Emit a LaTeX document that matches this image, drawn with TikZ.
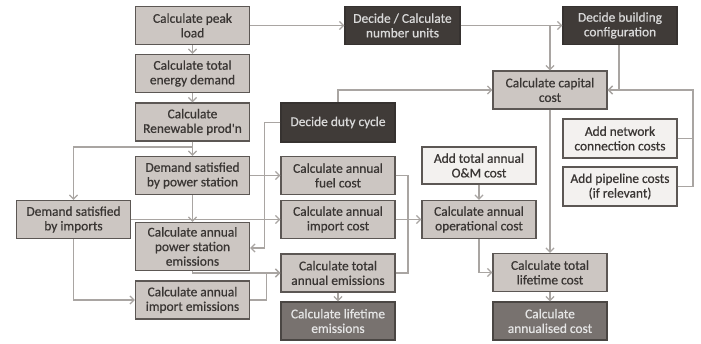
\documentclass[tikz,border=0pt]{standalone}
\usepackage{fontspec}
\setmainfont{Carlito}
\newfontfamily\boxfont{Carlito}[FakeBold=0.6]
\usetikzlibrary{arrows.meta}

\definecolor{boxfill}{HTML}{CCC6C2}
\definecolor{lightfill}{HTML}{F3F1EF}
\definecolor{darkfill}{HTML}{403B38}
\definecolor{midfill}{HTML}{78726F}
\definecolor{edgegray}{HTML}{5C5754}
\definecolor{textdark}{HTML}{3A3634}
\definecolor{linegray}{HTML}{A9A5A2}

\tikzset{
  box/.style={draw=edgegray, line width=1.3pt, fill=boxfill, text=textdark,
    minimum width=114pt, minimum height=38pt, align=center, inner sep=1pt,
    font=\boxfont\fontsize{13.4}{14.6}\selectfont},
  lightbox/.style={box, fill=lightfill},
  darkbox/.style={box, fill=darkfill, draw=darkfill!85!black, text=white!85!black},
  midbox/.style={box, fill=midfill, draw=edgegray!80!black, text=white!90!black},
  conn/.style={draw=linegray, line width=1.3pt},
  arr/.style={conn, -{Straight Barb[length=4pt,width=8pt,line width=1.3pt]}}
}

\begin{document}
\begin{tikzpicture}[x=1pt,y=-1pt]
\useasboundingbox[fill=white] (0,0) rectangle (701,343);

% left column
\node[box] (peak)   at (192.5,25.5) {Calculate peak\\load};
\node[box] (energy) at (192.5,73.5) {Calculate total\\energy demand};
\node[box] (renew)  at (192.5,122)  {Calculate\\Renewable prod'n};
\node[box] (dps)    at (192.5,175.5){Demand satisfied\\by power station};
\node[box] (dimp)   at (73.5,219.5) {Demand satisfied\\by imports};
\node[box, minimum height=48pt] (pse) at (192.5,246.5) {Calculate annual\\power station\\emissions};
\node[box] (ime)    at (192.5,300)  {Calculate annual\\import emissions};

% top decisions
\node[darkbox, minimum width=115pt] (units) at (402.5,25.5) {Decide / Calculate\\number units};
\node[darkbox] (bconf) at (620,25.5) {Decide building\\configuration};

% middle column
\node[darkbox, minimum height=39pt] (duty) at (338,122.5) {Decide duty cycle};
\node[box] (fuel)    at (338,175.5) {Calculate annual\\fuel cost};
\node[box] (impcost) at (338,219.5) {Calculate annual\\import cost};
\node[box] (tae)     at (338,273)   {Calculate total\\annual emissions};
\node[midbox] (lemis) at (338,321)  {Calculate lifetime\\emissions};

% cost column
\node[lightbox, minimum height=37pt] (om) at (479,165.5) {Add total annual\\O\&M cost};
\node[box] (opcost) at (479,219.5) {Calculate annual\\operational cost};
\node[box] (capcost) at (550,90)  {Calculate capital\\cost};
\node[box] (tlc)     at (550,272.5) {Calculate total\\lifetime cost};
\node[midbox] (annual) at (550,321) {Calculate\\annualised cost};

% right column
\node[lightbox, minimum height=39pt] (netw) at (620,138.5) {Add network\\connection costs};
\node[lightbox, minimum height=39pt] (pipe) at (620,186.5) {Add pipeline costs\\(if relevant)};

% junctions
\coordinate (rsplit) at (192.5,147);
\coordinate (opbus) at (408,219.5);
\coordinate (rbus) at (693,90);

% left chain
\draw[arr] (peak) -- (energy);
\draw[arr] (energy) -- (renew);
\draw[arr] (renew) -- (dps);
\draw[arr] (rsplit) -| (dimp.north);
\draw[arr] (dps) -- (fuel);
\draw[arr] (dps) -- (pse);
\draw[arr] (dimp.east) -- (impcost.west);
\draw[arr] (dimp.south) |- (ime.west);
\draw[arr] (duty.west) -- ++(-16,0) |- ([yshift=-1.5pt]pse.east);
\draw[arr] (duty.north) |- (capcost.west);
\draw[arr] (pse.south) |- (tae.west);
\draw[arr] (ime.east) -- ++(16,0) |- (tae.west);

% top row
\draw[arr] (peak) -- (units);
\draw[arr] (units) -- (bconf);
\draw[arr] (units.east -| capcost.north) -- (capcost.north);
\draw[arr] ([xshift=-1pt]bconf.south) |- (capcost.east);
\draw[arr] (pipe.east) -| (rbus) -- (capcost.east);
\draw[conn] (netw.east) -- (netw.east -| rbus);

% operating costs
\draw[arr] (capcost) -- (tlc);
\draw[arr] (om) -- (opcost);
\draw[conn] (fuel.east) -| (opbus);
\draw[conn] (tae.east) -| (opbus);
\draw[arr] (impcost) -- (opcost);
\draw[arr] (opcost.south) |- (tlc.west);
\draw[arr] (tlc) -- (annual);
\draw[arr] (tae) -- (lemis);
\end{tikzpicture}
\end{document}
